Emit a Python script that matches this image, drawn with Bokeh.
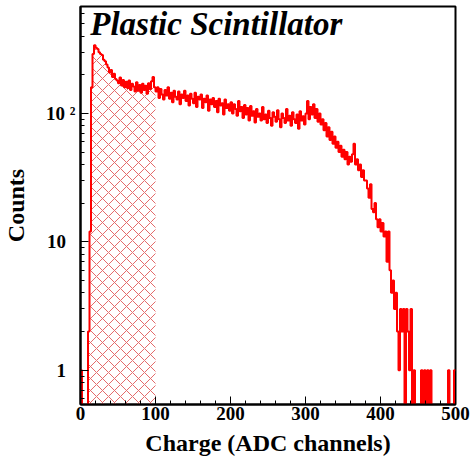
from bokeh.plotting import figure
from bokeh.models import Range1d, FixedTicker, Label
from bokeh.embed import file_html
from bokeh.resources import INLINE

# ---- data (bin width 2 ADC channels, left edges 0..498) ----
bin_width = 2
counts = [
    1, 0, 0, 0, 0, 2, 12, 160, 290, 340,            # 0-18
    325, 318, 300, 290, 285, 262, 255, 240, 228, 208,  # 20-38
    218, 192, 204, 185, 180, 172, 190, 165, 182, 160,  # 40-58
    176, 158, 180, 152, 170, 162, 148, 175, 150, 166,  # 60-78
    145, 170, 152, 164, 142, 172, 155, 178, 192, 160,  # 80-98
    148, 160, 132, 155, 140, 128, 152, 138, 160, 130,  # 100-118
    145, 122, 150, 135, 128, 148, 118, 140, 132, 150,  # 120-138
    125, 138, 115, 142, 130, 120, 145, 112, 135, 128,  # 140-158
    140, 110, 130, 122, 138, 105, 128, 118, 132, 112,  # 160-178
    125, 102, 130, 115, 120, 98, 128, 110, 118, 105,   # 180-198
    122, 100, 118, 108, 96, 125, 104, 112, 92, 116,    # 200-218
    98, 110, 88, 114, 96, 104, 85, 108, 94, 100,       # 220-238
    88, 112, 90, 98, 84, 105, 92, 80, 102, 94,         # 240-258
    86, 106, 90, 78, 100, 92, 84, 108, 88, 96,         # 260-278
    80, 102, 90, 84, 98, 76, 104, 88, 95, 82,          # 280-298
    100, 125, 90, 112, 98, 118, 92, 108, 86, 100,      # 300-318
    82, 90, 74, 84, 66, 78, 62, 72, 58, 66,            # 320-338
    54, 60, 50, 56, 46, 52, 44, 50, 40, 46,            # 340-358
    42, 48, 58, 40, 44, 36, 40, 32, 36, 30,            # 360-378
    30, 26, 22, 28, 18, 17, 20, 15, 13, 15,            # 380-398
    12, 14, 11, 12, 7, 12, 6, 4, 5, 3,                 # 400-418
    4, 2, 1, 3, 2, 3, 0, 3, 2, 1,                      # 420-438
    3, 0, 1, 0, 0, 0, 0, 1, 0, 1,                      # 440-458
    0, 1, 0, 1, 0, 0, 0, 0, 0, 0,                      # 460-478
    0, 0, 0, 0, 0, 1, 0, 0, 0, 1,                      # 480-498
]
hatch_from, hatch_to = 10, 100
x_ticks = [0, 100, 200, 300, 400, 500]
y_ticks = [1, 10, 100]
pad = "\u00a0\u00a0"
y_labels = {1: "1" + pad, 10: "10" + pad, 100: "10\u00a0\u00b2"}
title_text = "Plastic Scintillator"
x_label = "Charge (ADC channels)"
y_label = "Counts"

# ---- derived ----
n = len(counts)
edges = [i * bin_width for i in range(n + 1)]
floor_val = 1e-2
plot_vals = [c if c > 0 else floor_val for c in counts]
step_y = plot_vals + [plot_vals[-1]]

i0 = hatch_from // bin_width
i1 = hatch_to // bin_width
hx = edges[i0:i1 + 1]
hy = plot_vals[i0:i1] + [plot_vals[i1 - 1]]

FONT = "Liberation Serif"

p = figure(width=470, height=462, y_axis_type="log",
           x_range=Range1d(0, 500), y_range=Range1d(0.54, 680),
           output_backend="svg", toolbar_location=None,
           min_border_left=79, min_border_right=15,
           min_border_top=6, min_border_bottom=58)
p.background_fill_color = "white"
p.border_fill_color = "white"
p.outline_line_color = "black"
p.outline_line_width = 2
p.xgrid.visible = False
p.ygrid.visible = False

# hatched region
p.varea_step(x=hx, y1=[floor_val] * len(hx), y2=hy, step_mode="after",
             fill_alpha=0, hatch_pattern="diagonal_cross", hatch_scale=12,
             hatch_color="#e46a6a", hatch_weight=1, hatch_alpha=1.0)

# histogram outline
p.step(x=edges, y=step_y, mode="after", line_color="#ff0000", line_width=2)

# axes styling
minor_y = [v * 10 ** e for e in (-1, 0, 1, 2) for v in range(2, 10)]
p.yaxis.ticker = FixedTicker(ticks=y_ticks, minor_ticks=minor_y)
p.yaxis.major_label_overrides = y_labels
p.xaxis.ticker = FixedTicker(ticks=x_ticks,
                             minor_ticks=list(range(0, 501, 20)))
for ax in (p.xaxis[0], p.yaxis[0]):
    ax.axis_line_color = "black"
    ax.axis_line_width = 2
    ax.major_tick_in = 8
    ax.major_tick_out = 0
    ax.minor_tick_in = 4
    ax.minor_tick_out = 0
    ax.major_tick_line_color = "black"
    ax.minor_tick_line_color = "black"
    ax.major_label_text_font = FONT
    ax.major_label_text_font_style = "bold"
    ax.major_label_text_font_size = "19px"
    ax.major_label_text_color = "black"
    ax.axis_label_text_font = FONT
    ax.axis_label_text_font_style = "bold"
    ax.axis_label_text_font_size = "24px"
    ax.axis_label_text_color = "black"

p.xaxis.axis_label = x_label
p.xaxis.major_label_standoff = 2
p.xaxis.axis_label_standoff = 7
p.yaxis.axis_label = y_label
p.yaxis.major_label_standoff = 5
p.yaxis.axis_label_standoff = 14

# title inside frame
p.add_layout(Label(x=13, y=500, text=title_text, text_font=FONT,
                   text_font_style="bold italic", text_font_size="33px",
                   text_align="left", text_baseline="alphabetic",
                   text_color="black"))

open("out.html", "w").write(file_html(p, INLINE))
